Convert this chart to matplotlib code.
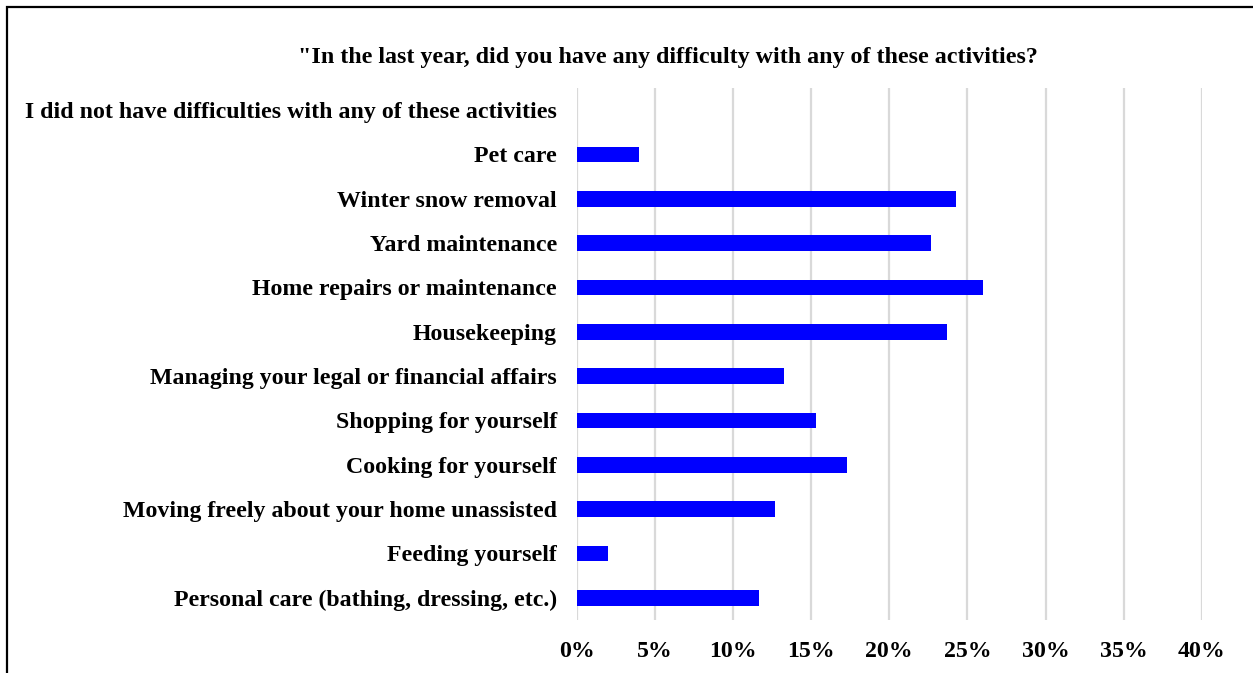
import matplotlib
matplotlib.use("Agg")
import matplotlib.pyplot as plt
from matplotlib.patches import Rectangle
from matplotlib.ticker import FuncFormatter

# Survey responses, listed top to bottom
categories = [
    "I did not have difficulties with any of these activities",
    "Pet care",
    "Winter snow removal",
    "Yard maintenance",
    "Home repairs or maintenance",
    "Housekeeping",
    "Managing your legal or financial affairs",
    "Shopping for yourself",
    "Cooking for yourself",
    "Moving freely about your home unassisted",
    "Feeding yourself",
    "Personal care (bathing, dressing, etc.)",
]
percent = [0.0, 4.0, 24.3, 22.7, 26.0, 23.7, 13.3, 15.3, 17.3, 12.7, 2.0, 11.7]
x_ticks = [0, 5, 10, 15, 20, 25, 30, 35, 40]
title = '"In the last year, did you have any difficulty with any of these activities?'

plt.rcParams["font.family"] = ["Liberation Serif", "DejaVu Serif"]
plt.rcParams["font.weight"] = "bold"

W, H = 1253, 673
fig = plt.figure(figsize=(W / 100, H / 100), dpi=100)
ax = fig.add_axes([576.5 / W, 1 - 620 / H, (1202 - 576.5) / W, (620 - 88) / H])

ypos = list(range(len(categories)))
ax.barh(ypos, percent, height=0.355, color="#0000FF", zorder=3)
ax.set_ylim(len(categories) - 0.5, -0.5)
ax.set_xlim(0, 40)

ax.set_xticks(x_ticks)
ax.xaxis.set_major_formatter(FuncFormatter(lambda v, p: f"{v:.0f}%"))
ax.set_yticks(ypos)
ax.set_yticklabels(categories)
ax.tick_params(axis="both", length=0, labelsize=17.2)
ax.tick_params(axis="x", pad=15)
ax.tick_params(axis="y", pad=14)
for lbl in ax.get_xticklabels() + ax.get_yticklabels():
    lbl.set_fontweight("bold")

ax.grid(axis="x", color="#d9d9d9", linewidth=1.6, zorder=0)
for s in ax.spines.values():
    s.set_visible(False)

fig.text(668 / W, 1 - 57 / H, title, ha="center", va="center",
         fontsize=17.3, fontweight="bold")

# Frame around the chart area
fig.patches.append(Rectangle((6.5 / W, -0.1), 1.2, 1 - 7 / H + 0.1,
                             transform=fig.transFigure, fill=False,
                             edgecolor="black", linewidth=1.6))

fig.savefig("out.png", dpi=100)
